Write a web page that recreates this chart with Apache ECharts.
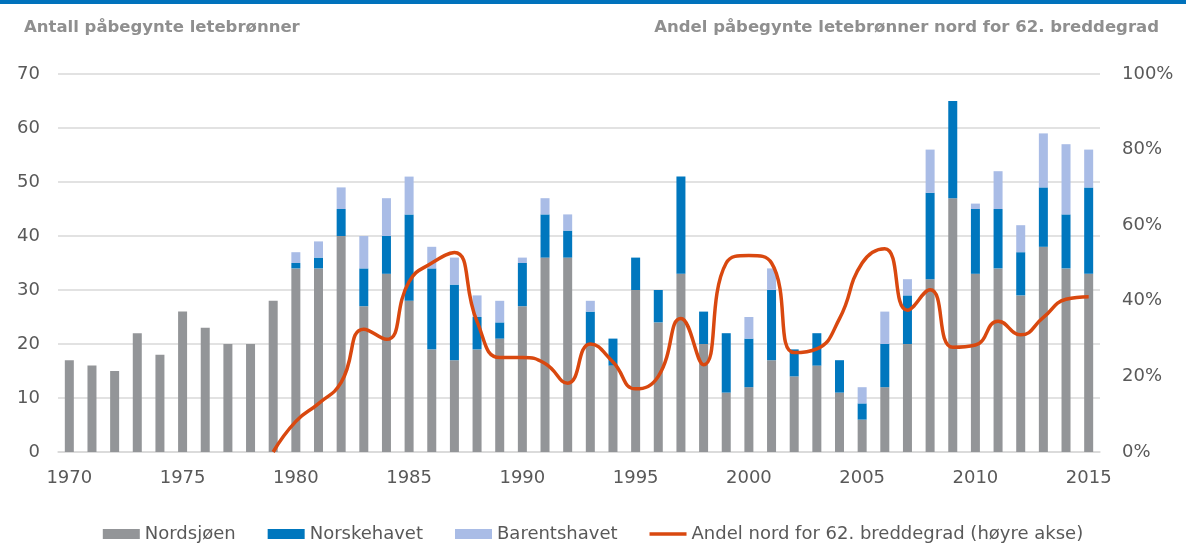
<!DOCTYPE html>
<html>
<head>
<meta charset="utf-8">
<script src="https://cdn.jsdelivr.net/npm/echarts@6/dist/echarts.min.js"></script>
<style>
html,body{margin:0;padding:0;background:#fff;}
#chart{width:1186px;height:545px;}
</style>
</head>
<body>
<div id="chart"></div>
<script>
const years = [1970,1971,1972,1973,1974,1975,1976,1977,1978,1979,
  1980,1981,1982,1983,1984,1985,1986,1987,1988,1989,
  1990,1991,1992,1993,1994,1995,1996,1997,1998,1999,
  2000,2001,2002,2003,2004,2005,2006,2007,2008,2009,
  2010,2011,2012,2013,2014,2015];
const nordsjoen = [17,16,15,22,18,26,23,20,20,28,
  34,34,40,27,33,28,19,17,19,21,
  27,36,36,20,16,30,24,33,20,11,
  12,17,14,16,11,6,12,20,32,47,
  33,34,29,38,34,33];
const norskehavet = [0,0,0,0,0,0,0,0,0,0,
  1,2,5,7,7,16,15,14,6,3,
  8,8,5,6,5,6,6,18,6,11,
  9,13,5,6,6,3,8,9,16,18,
  12,11,8,11,10,16];
const barentshavet = [0,0,0,0,0,0,0,0,0,0,
  2,3,4,6,7,7,4,5,4,4,
  1,3,3,2,0,0,0,0,0,0,
  4,4,0,0,0,3,6,3,8,0,
  1,7,5,10,13,7];
const andelNord = [null,null,null,null,null,null,null,null,null,0,
  8.1,12.8,18.4,32.5,29.8,45.1,50.0,52.8,34.5,25.0,
  25.0,23.4,18.2,28.6,23.8,16.7,20.0,35.3,23.1,50.0,
  52.0,50.0,26.3,27.3,35.3,50.0,53.8,37.5,42.9,27.7,
  28.3,34.6,31.0,35.6,40.4,41.1];
const leftTicks = {min:0, max:70, interval:10};
const rightTicks = {min:0, max:100, interval:20};

const FONT = 'DejaVu Sans';
const LINE_ICON = 'path://M0,0 L0.05,0 L0.05,0.05 Z M0,3.2 L37,3.2 L37,6.8 L0,6.8 Z M36.95,9.95 L37,9.95 L37,10 Z';
const chart = echarts.init(document.getElementById('chart'), null, {renderer:'canvas'});
chart.setOption({
  animation:false,
  backgroundColor:'#ffffff',
  textStyle:{fontFamily:FONT},
  graphic:[{type:'rect', left:0, top:0, shape:{width:1186, height:4}, style:{fill:'#0072BC'}}],
  title:[
    {text:'Antall påbegynte letebrønner', left:19, top:14,
     textStyle:{fontFamily:FONT, fontSize:16.5, fontWeight:'bold', color:'#8f8f8f'}},
    {text:'Andel påbegynte letebrønner nord for 62. breddegrad', right:22, top:14,
     textStyle:{fontFamily:FONT, fontSize:16.5, fontWeight:'bold', color:'#8f8f8f'}}
  ],
  legend:{
    left:'center', top:520, itemWidth:37, itemHeight:10, itemGap:32,
    textStyle:{fontFamily:FONT, fontSize:18, color:'#595959'},
    data:[{name:'Nordsjøen', icon:'rect'},{name:'Norskehavet', icon:'rect'},{name:'Barentshavet', icon:'rect'},
          {name:'Andel nord for 62. breddegrad (høyre akse)', icon:LINE_ICON}]
  },
  grid:{left:58, right:86, top:74, bottom:93, containLabel:false},
  xAxis:{
    type:'category', data:years, boundaryGap:true,
    axisLine:{show:true, lineStyle:{color:'#d9d9d9', width:1.5}},
    axisTick:{show:false},
    axisLabel:{interval:4, color:'#595959', fontSize:18, margin:17, fontFamily:FONT}
  },
  yAxis:[
    {type:'value', min:leftTicks.min, max:leftTicks.max, interval:leftTicks.interval,
     axisLine:{show:false}, axisTick:{show:false},
     axisLabel:{color:'#595959', fontSize:18, margin:18, fontFamily:FONT},
     splitLine:{lineStyle:{color:'#d9d9d9', width:1.5}}},
    {type:'value', min:rightTicks.min, max:rightTicks.max, interval:rightTicks.interval,
     axisLine:{show:false}, axisTick:{show:false},
     axisLabel:{color:'#595959', fontSize:18, margin:22, fontFamily:FONT, formatter:'{value}%'},
     splitLine:{show:false}}
  ],
  series:[
    {name:'Nordsjøen', type:'bar', stack:'b', data:nordsjoen, barWidth:9, itemStyle:{color:'#939598'}},
    {name:'Norskehavet', type:'bar', stack:'b', data:norskehavet, barWidth:9, itemStyle:{color:'#0077BE'}},
    {name:'Barentshavet', type:'bar', stack:'b', data:barentshavet, barWidth:9, itemStyle:{color:'#A9BCE6'}},
    {name:'Andel nord for 62. breddegrad (høyre akse)', type:'line', yAxisIndex:1, data:andelNord,
     smooth:0.5, symbol:'none', showSymbol:false, connectNulls:false,
     lineStyle:{color:'#D9480F', width:3.5}, itemStyle:{color:'#D9480F'}, z:5}
  ]
});
</script>
</body>
</html>
